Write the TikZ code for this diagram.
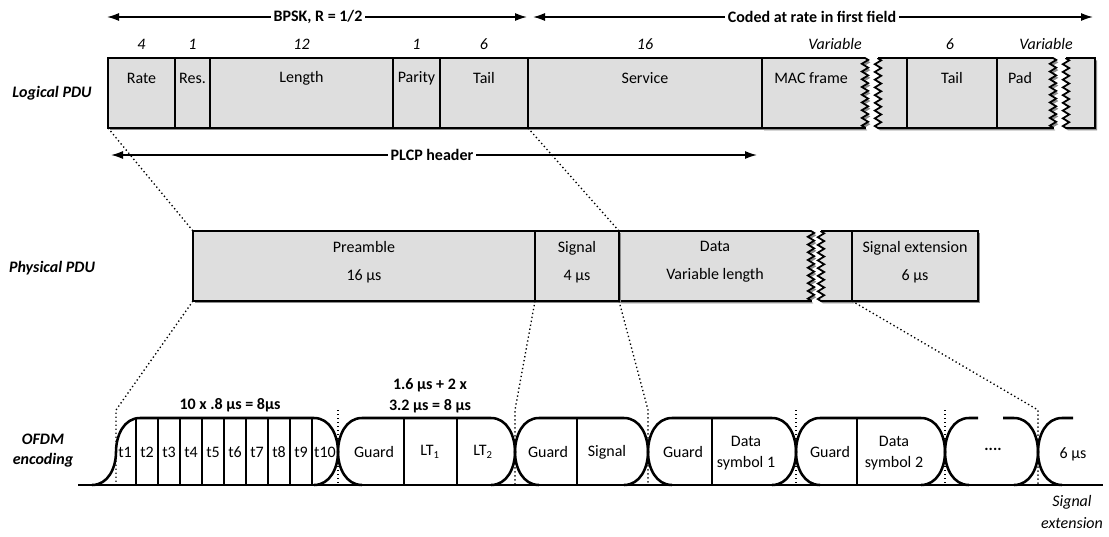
\documentclass[tikz,border=0pt]{standalone}
\usepackage{fontspec}
\setmainfont{Carlito}
\usepackage{xcolor}
\usepackage{tikz}
\usetikzlibrary{arrows.meta, positioning, decorations.pathmorphing}

\definecolor{pdugray}{RGB}{222,222,222}
\definecolor{shadowgray}{RGB}{140,140,140}

\tikzset{
  fldbox/.style={draw, line width=1.3pt, fill=pdugray,
    decoration={zigzag, segment length=5.8pt, amplitude=2.4pt}},
  shd/.style={preaction={fill=shadowgray, transform canvas={shift={(1.6pt,-1.8pt)}}}},
  fld/.style={fldbox, inner sep=0pt, outer sep=0pt, anchor=north west, minimum height=52.5pt},
  divline/.style={line width=1.3pt},
  lbl/.style={inner sep=1pt},
  lbl2/.style={inner sep=1pt, align=center, font=\fontsize{12}{21}\selectfont},
  num/.style={inner sep=1pt, font=\fontsize{12}{14}\selectfont\itshape},
  hdr/.style={fill=white, inner sep=2pt, font=\fontsize{12}{14}\selectfont\bfseries},
  side/.style={align=center, font=\fontsize{12}{15}\selectfont\bfseries\itshape},
  span/.style={line width=1.1pt, -{Latex[length=9pt, width=6pt]}},
  guide/.style={dotted, line width=1pt},
  wave/.style={line width=1.9pt},
  cell/.style={line width=0.9pt},
}

\begin{document}
\begin{tikzpicture}[x=0.75pt, y=-0.75pt, font=\fontsize{12}{14}\selectfont]
  \useasboundingbox (0,0) rectangle (1109,536);

  % coding spans
  \coordinate (bpskL) at (107,17);
  \coordinate (bpskR) at (527,17);
  \coordinate (codedL) at (533,17);
  \coordinate (codedR) at (1093,17);
  \node[hdr] (bpsk) at (318,17) {BPSK, R = 1/2};
  \node[hdr] (coded) at (812,17) {Coded at rate in first field};
  \draw[span] (bpsk) -- (bpskL);
  \draw[span] (bpsk) -- (bpskR);
  \draw[span] (coded) -- (codedL);
  \draw[span] (coded) -- (codedR);

  % logical PDU
  \node[side] (logical) at (52,93) {Logical PDU};
  \foreach \a/\b/\t/\n [count=\k] in {108/175/Rate/4, 175/210/Res./1, 210/393/Length/12,
      393/440/Parity/1, 440/528/Tail/6, 528/762/Service/16} {
    \node[fld, shd, minimum width={(\b-\a)*0.75pt}] (lf\k) at (\a,58) {};
    \node[lbl] (lft\k) at ({(\a+\b)/2},78) {\t};
    \node[num] (lfn\k) at ({(\a+\b)/2},44) {\n};
  }
  \path[fldbox, shd] (762,58) -- (865,58) decorate {-- (865,128)} -- (762,128) -- cycle;
  \node[lbl] (mac) at (811,78) {MAC frame};
  \node[num] (macn) at (835,44) {Variable};
  \path[fldbox, shd] (878,58) -- (1053,58) decorate {-- (1053,128)} -- (878,128)
    decorate {-- (878,58)} -- cycle;
  \draw[divline] (907,58) -- (907,128);
  \draw[divline] (997,58) -- (997,128);
  \node[lbl] (tail2) at (952,78) {Tail};
  \node[lbl] (pad) at (1020,78) {Pad};
  \node[num] (tail2n) at (950,44) {6};
  \node[num] (padn) at (1046,44) {Variable};
  \path[fldbox, shd] (1066,58) -- (1095,58) -- (1095,128) -- (1066,128)
    decorate {-- (1066,58)} -- cycle;

  % PLCP header span
  \coordinate (plcpL) at (111,155);
  \coordinate (plcpR) at (757,155);
  \node[hdr] (plcp) at (432,155) {PLCP header};
  \draw[span] (plcp) -- (plcpL);
  \draw[span] (plcp) -- (plcpR);

  % physical PDU
  \node[side] (physical) at (52,268) {Physical PDU};
  \path[fldbox, shd] (619,231) -- (811,231) decorate {-- (811,301)} -- (619,301) -- cycle;
  \path[fldbox, shd] (821,231) -- (852,231) -- (852,301) -- (821,301)
    decorate {-- (821,231)} -- cycle;
  \foreach \a/\b/\t [count=\k] in {193/535/{Preamble\\16 µs}, 535/619/{Signal\\4 µs},
      852/978/{Signal extension\\6 µs}} {
    \node[fld, shd, minimum width={(\b-\a)*0.75pt}] (pf\k) at (\a,231) {};
    \node[lbl2] (pft\k) at ({(\a+\b)/2},262) {\t};
  }
  \node[lbl2] (data) at (715,262) {Data\\Variable length};

  % OFDM encoding
  \node[side] (ofdm) at (43,451) {OFDM\\encoding};
  \foreach \c [count=\k from 0] in {116,338,515,648,796,945,1038} {
    \coordinate (g\k) at (\c,410);
    \coordinate (b\k) at (\c,485);
  }
  \coordinate (baseL) at (78,485);
  \coordinate (baseR) at (1103,485);
  \draw[cell] (baseL) -- (baseR);
  \foreach \p/\q in {116/338, 338/515, 515/648, 648/796, 796/945} {
    \draw[wave] ({\p-24},485) to[out=0,in=-90] (\p,452) to[out=90,in=180] ({\p+24},418)
      -- ({\q-24},418) to[out=0,in=90] (\q,452) to[out=-90,in=180] ({\q+24},485);
  }
  \draw[wave] (921,485) to[out=0,in=-90] (945,452) to[out=90,in=180] (969,418) -- (978,418);
  \draw[wave] (1003,418) -- (1014,418) to[out=0,in=90] (1038,452) to[out=-90,in=180] (1062,485);
  \draw[wave] (1014,485) to[out=0,in=-90] (1038,452) to[out=90,in=180] (1062,418) -- (1073,418);
  \foreach \x in {136,158,180,202,224,246,268,290,312,404,457,577,712,857} {
    \draw[cell] (\x,418) -- (\x,485);
  }
  \foreach \k in {1,...,9} {
    \node[lbl] (t\k) at ({125+(\k-1)*22},452) {t\k};
  }
  \node[lbl] (t10) at (325,452) {t10};
  \node[lbl] (guard1) at (374,452) {Guard};
  \node[lbl] (lt1) at (430,452) {LT\textsubscript{1}};
  \node[lbl] (lt2) at (483,452) {LT\textsubscript{2}};
  \node[lbl] (guard2) at (548,452) {Guard};
  \node[lbl] (sig) at (607,452) {Signal};
  \node[lbl] (guard3) at (683,452) {Guard};
  \node[lbl2, font=\fontsize{12}{16}\selectfont] (ds1) at (746,453) {Data\\symbol 1};
  \node[lbl] (guard4) at (830,452) {Guard};
  \node[lbl2, font=\fontsize{12}{16}\selectfont] (ds2) at (894,453) {Data\\symbol 2};
  \node[lbl] (dots) at (993,449) {\textbf{....}};
  \node[lbl] (ext) at (1073,454) {6 µs};
  \node[lbl, font=\fontsize{12}{14}\selectfont\bfseries] (pretime) at (230,405) {10 x .8 µs = 8µs};
  \node[lbl2, font=\fontsize{12}{16}\selectfont\bfseries] (lttime) at (430,396) {1.6 µs + 2 x\\3.2 µs = 8 µs};
  \node[lbl2, font=\fontsize{12}{16}\selectfont\itshape] (extlbl) at (1072,512) {Signal\\extension};

  % dotted guides
  \draw[guide] (lf1.south west) -- (pf1.north west);
  \draw[guide] (lf6.south west) -- (pf2.north east);
  \draw[guide] (pf1.south west) -- (g0) -- (b0);
  \draw[guide] (pf2.south west) -- (g2) -- (b2);
  \draw[guide] (pf2.south east) -- (g3) -- (b3);
  \draw[guide] (pf3.south west) -- (g6) -- (b6);
  \foreach \k in {1,4,5} {
    \draw[guide] (g\k) -- (b\k);
  }
\end{tikzpicture}
\end{document}
